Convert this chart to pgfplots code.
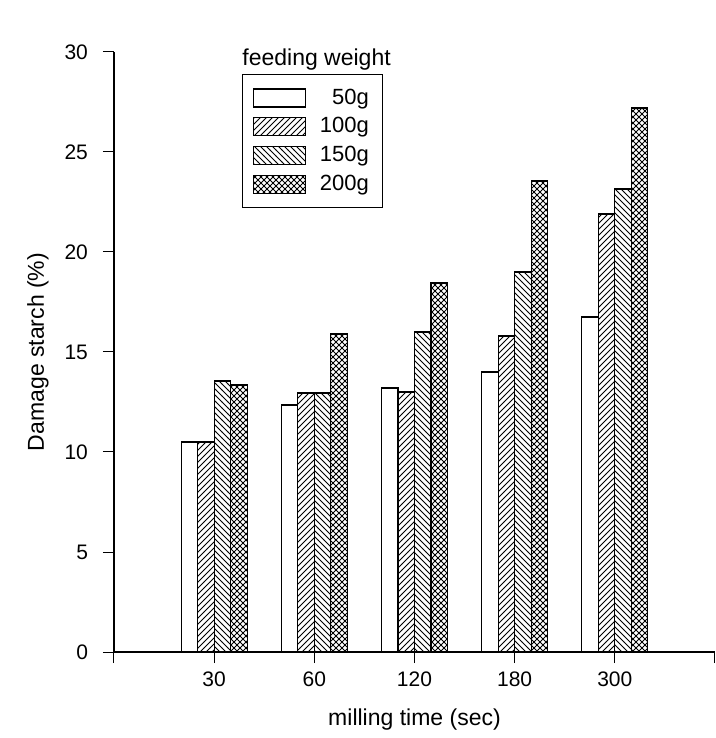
\documentclass[border=0pt]{standalone}
\usepackage{pgfplots}
\pgfplotsset{compat=1.18}
\usepackage{fontspec}
\setmainfont{Liberation Sans}
\usetikzlibrary{patterns}

\begin{document}
\begin{tikzpicture}
\begin{axis}[
  at={(0,0)}, anchor=south west,
  scale only axis, width=300.5pt, height=300pt,
  xmin=0, xmax=6, ymin=0, ymax=30,
  axis lines*=left,
  xtick={0,1,2,3,4,5,6},
  xticklabels={,30,60,120,180,300,},
  ytick={0,5,10,15,20,25,30},
  tick align=outside,
  major tick length=5.5pt,
  tick style={black, line width=0.5pt},
  axis line style={black, line width=0.6pt},
  /pgf/number format/assume math mode=true,
  ticklabel style={font=\fontsize{10.5}{12}\selectfont},
  yticklabel style={xshift=-4pt},
  xticklabel style={yshift=-1pt},
  xlabel={milling time (sec)},
  ylabel={Damage starch (\%)},
  every axis x label/.style={at={(rel axis cs:0.5,0)}, yshift=-34pt, anchor=center, font=\fontsize{11.5}{13}\selectfont},
  every axis y label/.style={at={(rel axis cs:0,0.5)}, xshift=-38pt, rotate=90, anchor=center, font=\fontsize{11.5}{13}\selectfont},
  ybar=0pt, bar width=0.165,
  legend image code/.code={\draw[#1, line width=0.6pt] (0pt,-4.5pt) rectangle (26pt,4.5pt);},
  legend cell align=right,
  legend style={at={(0.213,0.963)}, anchor=north west, draw=black, line width=0.6pt,
    font=\fontsize{11}{13}\selectfont, inner xsep=5pt, inner ysep=5pt, row sep=1.2pt,
    column sep=5pt},
]
\addplot[fill=white, draw=black, line width=0.6pt] coordinates {(1,10.5) (2,12.35) (3,13.2) (4,14.0) (5,16.75)};
\addplot[pattern=north east lines, draw=black, line width=0.6pt] coordinates {(1,10.5) (2,12.95) (3,13.0) (4,15.8) (5,21.9)};
\addplot[pattern=north west lines, draw=black, line width=0.6pt] coordinates {(1,13.55) (2,12.95) (3,16.0) (4,19.0) (5,23.15)};
\addplot[pattern=north east lines, postaction={pattern=north west lines}, draw=black, line width=0.6pt] coordinates {(1,13.35) (2,15.9) (3,18.45) (4,23.55) (5,27.2)};
\legend{50g,100g,150g,200g}
\end{axis}
\node[anchor=base west, font=\fontsize{11.5}{13}\selectfont, inner sep=0pt] at (64pt,293pt) {feeding weight};
\pgfresetboundingbox
\useasboundingbox (-57pt,-43pt) rectangle (301pt,326pt);
\end{tikzpicture}
\end{document}
